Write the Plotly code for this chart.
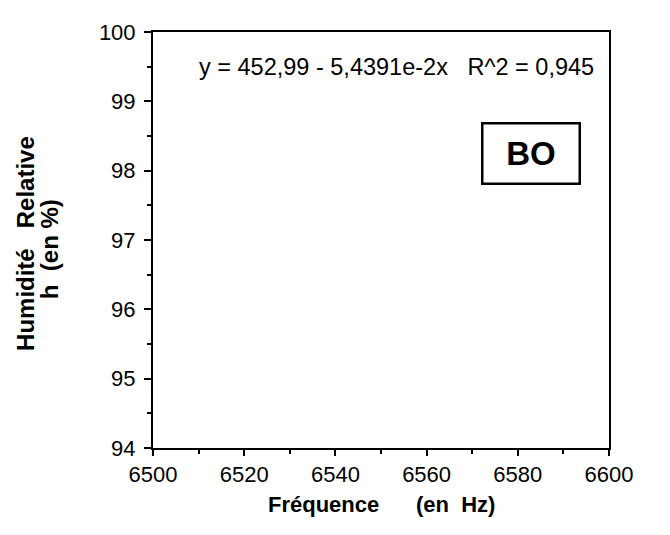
import plotly.graph_objects as go

# Axis data
x_ticks = [6500, 6520, 6540, 6560, 6580, 6600]
y_ticks = [94, 95, 96, 97, 98, 99, 100]
x_range = [6500, 6600]
y_range = [94, 100]
x_title = "Fréquence      (en  Hz)"
y_title_line1 = "Humidité   Relative"
y_title_line2 = "h  (en %)"
equation_text = "y = 452,99 - 5,4391e-2x   R^2 = 0,945"
label_text = "BO"

FONT = "Liberation Sans, Arial, Helvetica, sans-serif"
TXT = dict(family=FONT, color="black")

fig = go.Figure()
fig.add_trace(go.Scatter(x=[], y=[], mode="markers", showlegend=False))

axis_common = dict(
    showline=True, linecolor="black", linewidth=2, mirror=True,
    showgrid=False, zeroline=False,
    ticks="outside", tickwidth=2, tickcolor="black",
    tickfont=dict(size=22, **TXT),
)

fig.update_xaxes(range=x_range, tickvals=x_ticks, ticklen=6,
                 minor=dict(dtick=10, ticks="outside", ticklen=4, tickwidth=2, tickcolor="black"),
                 **axis_common)
fig.update_yaxes(range=y_range, tickvals=y_ticks, ticklen=7, ticklabelstandoff=4,
                 minor=dict(dtick=0.5, ticks="outside", ticklen=4, tickwidth=2, tickcolor="black"),
                 **axis_common)

# axis titles
fig.add_annotation(xref="paper", yref="paper", x=0.5, y=-0.135,
                   text="<b>" + x_title + "</b>", showarrow=False,
                   xanchor="center", yanchor="middle", font=dict(size=22, **TXT))
fig.add_annotation(xref="paper", yref="paper", x=-0.2785, y=0.4905,
                   text="<b>" + y_title_line1 + "</b>", showarrow=False, textangle=-90,
                   xanchor="center", yanchor="middle", font=dict(size=24, **TXT))
fig.add_annotation(xref="paper", yref="paper", x=-0.2280, y=0.478,
                   text="<b>" + y_title_line2 + "</b>", showarrow=False, textangle=-90,
                   xanchor="center", yanchor="middle", font=dict(size=24, **TXT))

# in-plot texts
fig.add_annotation(x=6553.4, y=99.49, text=equation_text, showarrow=False,
                   font=dict(size=23.5, **TXT))
fig.add_annotation(x=6582.8, y=98.25, text="<b>" + label_text + "</b>", showarrow=False,
                   font=dict(size=33, **TXT),
                   bordercolor="black", borderwidth=2.5, borderpad=6,
                   width=83, height=46, bgcolor="white")

fig.update_layout(
    width=670, height=535,
    margin=dict(l=145, r=69, t=18, b=95),
    plot_bgcolor="white", paper_bgcolor="white",
    font=TXT,
)

fig.write_html("out.html")
